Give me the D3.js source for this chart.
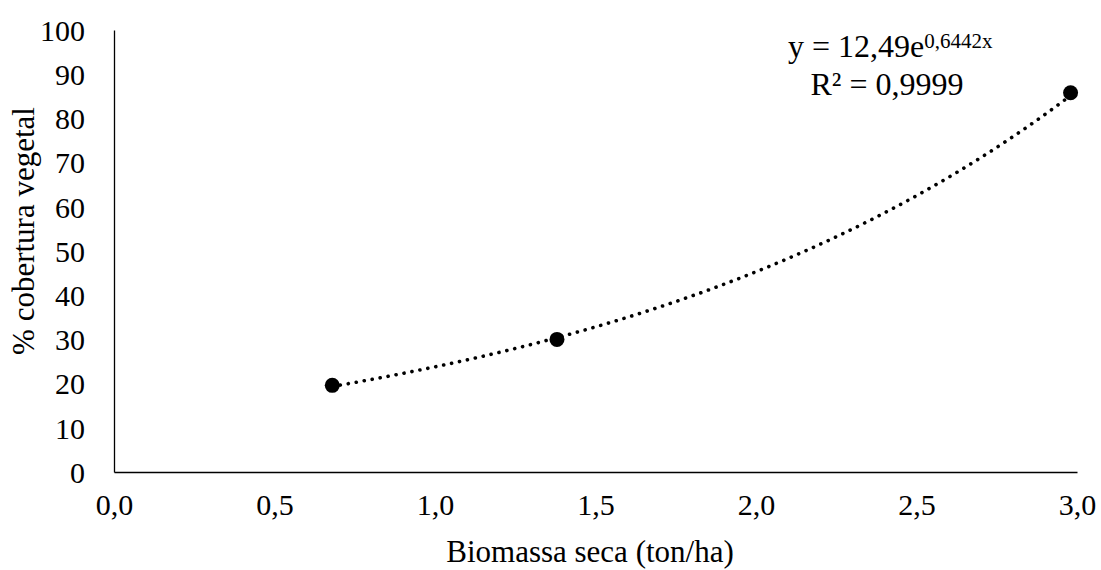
<!DOCTYPE html>
<html>
<head>
<meta charset="utf-8">
<script src="https://cdn.jsdelivr.net/npm/d3@7"></script>
<style>
  body { margin: 0; background: #fff; }
  svg { display: block; }
  svg text { font-family: "Liberation Serif", "Times New Roman", serif; fill: #000; }
</style>
</head>
<body>
<div id="chart"></div>
<script>
// measured points
const biomassa = [0.68, 1.38, 2.98];
const cobertura = [19.6, 30.0, 85.8];
const xTicks = [0, 0.5, 1.0, 1.5, 2.0, 2.5, 3.0];
const yTicks = [0, 10, 20, 30, 40, 50, 60, 70, 80, 90, 100];
// exponential trendline shown on the chart: y = a * e^(b x)
const fitA = 12.49, fitB = 0.6442;

const W = 1101, H = 570;
const margin = { top: 30, right: 24, bottom: 98, left: 114 },
      width = W - margin.left - margin.right,
      height = H - margin.top - margin.bottom;

const svg = d3.select("#chart")
  .append("svg")
  .attr("width", W)
  .attr("height", H)
  .append("g")
  .attr("transform", `translate(${margin.left},${margin.top})`);

const x = d3.scaleLinear().domain([0, 3]).range([0, width]);
const y = d3.scaleLinear().domain([0, 100]).range([height, 0]);

const fmt = d => d3.format(".1f")(d).replace(".", ",");

const xAxis = svg.append("g")
  .attr("transform", `translate(0,${height})`)
  .call(d3.axisBottom(x).tickValues(xTicks).tickFormat(fmt).tickSize(0).tickPadding(22));
const yAxis = svg.append("g")
  .call(d3.axisLeft(y).tickValues(yTicks).tickSize(0).tickPadding(29));

[xAxis, yAxis].forEach(a => {
  a.attr("font-family", "Liberation Serif").attr("font-size", 30);
  a.select(".domain").attr("stroke", "#000").attr("stroke-width", 1.3);
  a.selectAll("text").attr("fill", "#000");
});
yAxis.selectAll("text").attr("dy", "0.34em");

// trendline
const fitX = d3.range(0, 101).map(i => biomassa[0] + (biomassa[2] - biomassa[0]) * i / 100);
svg.append("path")
  .datum(fitX)
  .attr("fill", "none")
  .attr("stroke", "#000")
  .attr("stroke-width", 3.6)
  .attr("stroke-linecap", "round")
  .attr("stroke-dasharray", "0.1 8")
  .attr("d", d3.line().x(d => x(d)).y(d => y(fitA * Math.exp(fitB * d))));

svg.selectAll("circle")
  .data(biomassa)
  .join("circle")
  .attr("cx", d => x(d))
  .attr("cy", (d, i) => y(cobertura[i]))
  .attr("r", 7.5)
  .attr("fill", "#000");

// axis titles
svg.append("text")
  .attr("x", 590 - margin.left)
  .attr("y", 562 - margin.top)
  .attr("text-anchor", "middle")
  .style("font-size", "31px")
  .text("Biomassa seca (ton/ha)");

svg.append("text")
  .attr("transform", "rotate(-90)")
  .attr("x", -(231 - margin.top))
  .attr("y", 34 - margin.left)
  .attr("text-anchor", "middle")
  .style("font-size", "31px")
  .text("% cobertura vegetal");

// equation labels
const eq = svg.append("text")
  .attr("x", 788 - margin.left)
  .attr("y", 57 - margin.top)
  .style("font-size", "32px");
eq.append("tspan").text("y = 12,49e");
eq.append("tspan").attr("dy", -9).style("font-size", "21px").text("0,6442x");

svg.append("text")
  .attr("x", 887 - margin.left)
  .attr("y", 95 - margin.top)
  .attr("text-anchor", "middle")
  .style("font-size", "32px")
  .text("R² = 0,9999");
</script>
</body>
</html>
